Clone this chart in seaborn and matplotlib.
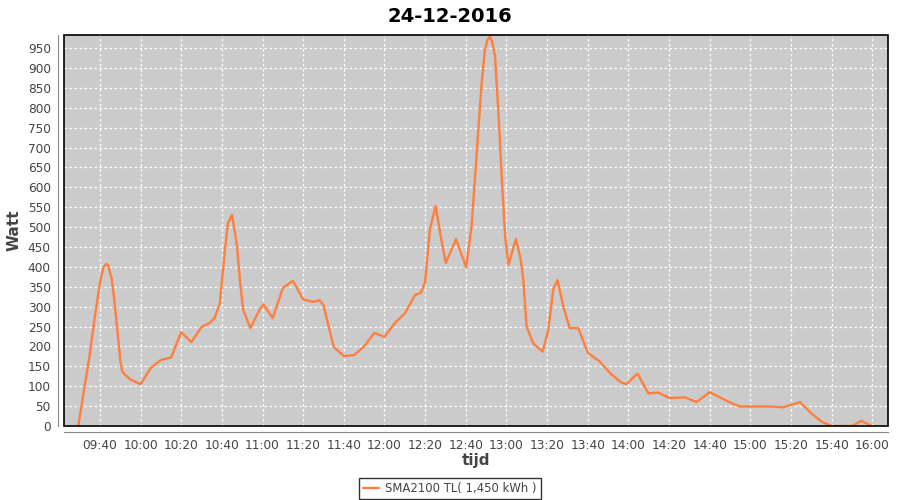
import matplotlib
matplotlib.use('Agg')
import matplotlib.pyplot as plt
import matplotlib.dates as mdates
from matplotlib.patches import Rectangle
import seaborn as sns
import pandas as pd

# power readings of 24-12-2016
tijd = ["09:29:20", "09:35:00", "09:37:30", "09:40:00", "09:41:35", "09:43:00",
        "09:44:05", "09:45:00", "09:45:45", "09:47:30", "09:50:00", "09:51:00",
        "09:52:30", "09:55:00", "10:00:00", "10:05:00",
        "10:10:00", "10:15:00", "10:20:00", "10:25:00", "10:30:00", "10:34:00",
        "10:36:30", "10:39:00", "10:41:30", "10:43:00", "10:45:00", "10:47:20",
        "10:49:00", "10:50:30", "10:54:00", "10:59:00", "11:00:30", "11:05:00",
        "11:10:00", "11:15:00", "11:20:00", "11:25:00", "11:28:00", "11:30:00",
        "11:35:00", "11:40:00", "11:45:00", "11:50:00", "11:55:00", "12:00:00",
        "12:05:00", "12:10:00", "12:15:00", "12:18:00", "12:20:00", "12:22:20",
        "12:25:10", "12:28:00", "12:30:10", "12:35:15", "12:40:10", "12:42:50",
        "12:44:30", "12:46:10", "12:47:50", "12:49:25", "12:50:40", "12:51:50",
        "12:53:00", "12:54:25",
        "12:56:05", "12:57:45", "12:59:25", "13:01:00", "13:04:40", "13:07:00",
        "13:08:20", "13:09:55", "13:13:10", "13:17:50", "13:20:35", "13:23:00",
        "13:25:10", "13:28:00", "13:31:10", "13:35:20", "13:40:10", "13:46:00",
        "13:51:00", "13:56:00", "13:59:00", "14:04:30", "14:09:50", "14:14:40",
        "14:20:20", "14:27:50", "14:33:30", "14:40:00", "14:45:00", "14:50:00",
        "14:55:00", "15:00:00", "15:10:00", "15:16:00", "15:20:00", "15:24:30",
        "15:30:00", "15:35:00", "15:40:00", "15:50:00", "15:54:40", "15:59:40"]
watt = [0, 180, 275, 359, 397, 407,
        405, 384, 372, 297, 166, 137,
        128, 117, 105, 146,
        166, 172, 236, 211, 249, 259,
        272, 309, 443, 510, 531, 458,
        360, 292, 246, 297, 305, 271,
        347, 365, 318, 312, 316, 304,
        199, 176, 178, 200, 234, 224,
        258, 283, 329, 335, 362, 493,
        553, 468, 410, 470, 399, 501,
        619, 744, 862, 946, 970, 979,
        966, 929,
        787, 619, 476, 405, 470, 420,
        367, 250, 208, 187, 241, 342,
        367, 300, 246, 246, 183, 162,
        133, 111, 105, 132, 82, 84,
        70, 72, 60, 85, 72, 59,
        49, 49, 49, 47, 53, 60,
        32, 11, 0, 0, 13, 0]

serie = "SMA2100 TL( 1,450 kWh )"
datum = "2016-12-24"

df = pd.DataFrame({'tijd': pd.to_datetime([datum + ' ' + t for t in tijd]),
                   'Watt': watt})

sns.set_style('white')
plt.rcParams['font.family'] = ['DejaVu Sans']

fig = plt.figure(figsize=(9, 5), dpi=100)
ax = fig.add_axes([64 / 900, 74 / 500, 824 / 900, 391 / 500])
ax.set_facecolor('#cbcbcb')

sns.lineplot(data=df, x='tijd', y='Watt', ax=ax, color='#ff7f3f',
             linewidth=1.7, label=serie, solid_joinstyle='round')

ax.set_ylim(0, 983)
ax.set_yticks(range(0, 951, 50))
ax.set_xlim(pd.Timestamp(datum + ' 09:22:20'), pd.Timestamp(datum + ' 16:07:45'))
ax.xaxis.set_major_locator(mdates.MinuteLocator(byminute=[0, 20, 40]))
ax.xaxis.set_major_formatter(mdates.DateFormatter('%H:%M'))

ax.grid(True, color='white', linestyle=(0, (2, 2)), linewidth=0.9)
ax.set_axisbelow(True)

# gray axis lines, set off from the black plot outline
for s in ['left', 'bottom']:
    ax.spines[s].set_position(('outward', 4))
    ax.spines[s].set_color('#888888')
for s in ['top', 'right']:
    ax.spines[s].set_visible(False)
ax.add_patch(Rectangle((0, 0), 1, 1, transform=ax.transAxes, fill=False,
                       edgecolor='black', linewidth=1.2, zorder=5, clip_on=False))

ax.tick_params(axis='both', direction='out', length=4, width=0.8,
               color='#888888', labelcolor='#444444', labelsize=8.7, pad=1.5)

ax.set_xlabel('tijd', fontsize=11, fontweight='bold', color='#444444')
ax.xaxis.set_label_coords(0.5, -0.068)
ax.set_ylabel('Watt', fontsize=11, fontweight='bold', color='#444444')
ax.yaxis.set_label_coords(-0.052, 0.5)
fig.suptitle('24-12-2016', x=0.5, y=0.985, fontsize=14, fontweight='bold',
             color='black')

ax.get_legend().remove()
h, l = ax.get_legend_handles_labels()
leg = fig.legend(h, l, loc='lower center', bbox_to_anchor=(0.5, -0.01),
                 fancybox=False, frameon=True, fontsize=8.4, handlelength=1.4,
                 borderpad=0.35, handletextpad=0.5)
leg.get_frame().set_edgecolor('black')
leg.get_frame().set_linewidth(1.0)
for t in leg.get_texts():
    t.set_color('#444444')

fig.savefig('out.png', dpi=100)
